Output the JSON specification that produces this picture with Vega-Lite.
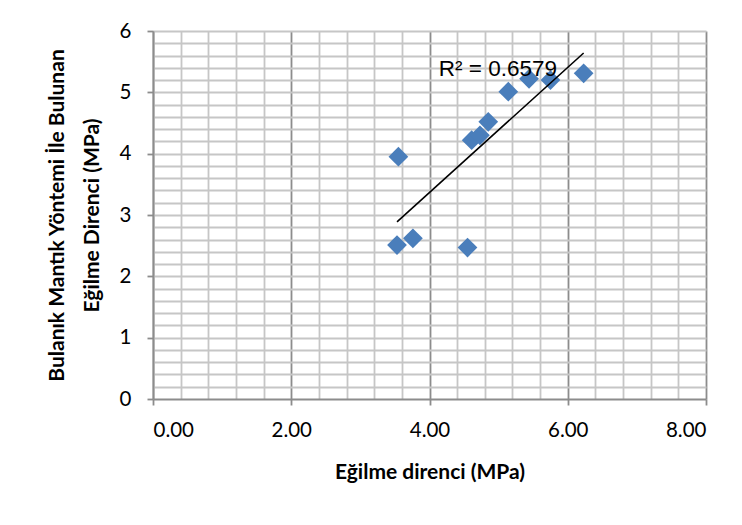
{
  "$schema": "https://vega.github.io/schema/vega-lite/v6.json",
  "width": 553,
  "height": 368,
  "autosize": {"type": "none"},
  "padding": {"left": 153, "top": 31, "right": 36, "bottom": 126},
  "background": "white",
  "config": {"font": "Lato", "view": {"stroke": null}},
  "data": {
    "values": [
      {"x": 3.55, "y": 3.95},
      {"x": 3.53, "y": 2.51},
      {"x": 3.76, "y": 2.62},
      {"x": 4.55, "y": 2.47},
      {"x": 4.61, "y": 4.22},
      {"x": 4.73, "y": 4.30},
      {"x": 4.85, "y": 4.52},
      {"x": 5.14, "y": 5.01},
      {"x": 5.44, "y": 5.22},
      {"x": 5.75, "y": 5.20},
      {"x": 6.23, "y": 5.31}
    ]
  },
  "layer": [
    {
      "mark": {"type": "point", "shape": "diamond", "filled": true, "size": 390, "color": "#4A7EBB", "opacity": 1},
      "encoding": {
        "x": {
          "field": "x", "type": "quantitative",
          "scale": {"domain": [0, 8], "nice": false, "zero": false},
          "axis": {"orient": "bottom", "values": [0.4, 0.8, 1.2, 1.6, 2.4, 2.8, 3.2, 3.6, 4.4, 4.8, 5.2, 5.6, 6.4, 6.8, 7.2, 7.6],
            "grid": true, "gridColor": "#c6c6c6", "gridWidth": 1.8, "labels": false, "ticks": false, "domain": false, "title": null}
        },
        "y": {
          "field": "y", "type": "quantitative",
          "scale": {"domain": [0, 6], "nice": false, "zero": false},
          "axis": {"orient": "left", "values": [0.2, 0.4, 0.6, 0.8, 1, 1.2, 1.4, 1.6, 1.8, 2, 2.2, 2.4, 2.6, 2.8, 3, 3.2, 3.4, 3.6, 3.8, 4, 4.2, 4.4, 4.6, 4.8, 5, 5.2, 5.4, 5.6, 5.8, 6],
            "grid": true, "gridColor": "#c6c6c6", "gridWidth": 1.8, "labels": false, "ticks": false, "domain": false, "title": null}
        }
      }
    },
    {
      "transform": [{"regression": "y", "on": "x"}],
      "mark": {"type": "line", "color": "#000000", "strokeWidth": 1.6},
      "encoding": {
        "x": {
          "field": "x", "type": "quantitative",
          "axis": {"orient": "bottom", "values": [0, 2, 4, 6, 8], "format": ".2f", "grid": true, "gridColor": "#8c8c8c", "gridWidth": 1.8,
            "domainColor": "#8c8c8c", "domainWidth": 1.8, "tickColor": "#8c8c8c", "tickWidth": 1.8, "tickSize": 6,
            "labelFontSize": 20.5, "labelColor": "#000000", "labelPadding": 15,
            "title": "Eğilme direnci (MPa)", "titleFontSize": 21, "titleFontWeight": "bold", "titleColor": "#000000", "titlePadding": 21}
        },
        "y": {
          "field": "y", "type": "quantitative",
          "axis": {"orient": "left", "values": [0, 1, 2, 3, 4, 5, 6], "grid": false,
            "domainColor": "#8c8c8c", "domainWidth": 1.8, "tickColor": "#8c8c8c", "tickWidth": 1.8, "tickSize": 6,
            "labelFontSize": 20.5, "labelColor": "#000000", "labelPadding": 16,
            "title": ["Bulanık Mantık Yöntemi İle Bulunan", "Eğilme Direnci (MPa)"], "titleFontSize": 21, "titleFontWeight": "bold",
            "titleColor": "#000000", "titlePadding": 17, "titleLineHeight": 35}
        }
      }
    },
    {
      "data": {"values": [{"label": "R² = 0.6579"}]},
      "mark": {"type": "text", "font": "Liberation Sans", "fontSize": 22.5, "color": "#000000", "align": "center", "baseline": "middle"},
      "encoding": {
        "x": {"datum": 4.99, "type": "quantitative", "axis": null},
        "y": {"datum": 5.38, "type": "quantitative", "axis": null},
        "text": {"field": "label"}
      }
    }
  ],
  "resolve": {"axis": {"x": "independent", "y": "independent"}}
}
